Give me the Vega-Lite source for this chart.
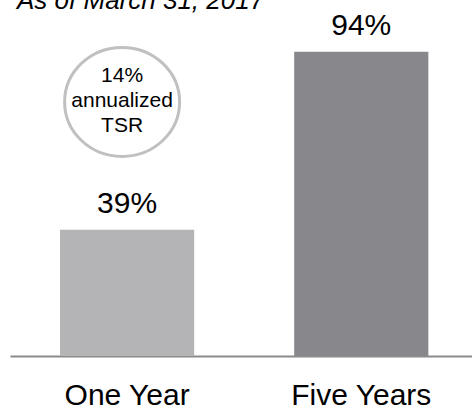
{
  "$schema": "https://vega.github.io/schema/vega-lite/v6.json",
  "width": 462,
  "height": 356,
  "autosize": "none",
  "padding": {"left": 10, "top": 0, "right": 0, "bottom": 51},
  "background": "white",
  "title": {
    "text": "As of March 31, 2017",
    "anchor": "start",
    "frame": "group",
    "font": "Liberation Sans",
    "fontSize": 26,
    "fontStyle": "italic",
    "fontWeight": "normal",
    "color": "black",
    "baseline": "alphabetic",
    "offset": -35,
    "dx": 7
  },
  "config": {
    "view": {"stroke": null},
    "font": "Liberation Sans"
  },
  "layer": [
    {
      "data": {"values": [
        {"period": "One Year", "value": 39, "label": "39%"},
        {"period": "Five Years", "value": 94, "label": "94%"}
      ]},
      "layer": [
        {
          "mark": {"type": "bar"},
          "encoding": {
            "x": {
              "field": "period", "type": "nominal", "sort": null,
              "scale": {"paddingInner": 0.427, "paddingOuter": 0.2, "align": 0.534},
              "axis": {
                "title": null, "labelAngle": 0, "labelFontSize": 30, "labelColor": "black",
                "labelFont": "Liberation Sans", "ticks": false, "tickSize": 0, "labelPadding": 24,
                "domainColor": "#8a8a8a", "domainWidth": 2, "grid": false
              }
            },
            "y": {"field": "value", "type": "quantitative", "scale": {"domain": [0, 110]}, "axis": null},
            "color": {
              "field": "period", "type": "nominal",
              "scale": {"domain": ["One Year", "Five Years"], "range": ["#b4b4b6", "#88878c"]},
              "legend": null
            }
          }
        },
        {
          "mark": {"type": "text", "fontSize": 30, "font": "Liberation Sans", "baseline": "alphabetic", "dy": -17, "color": "black"},
          "encoding": {
            "x": {"field": "period", "type": "nominal", "sort": null},
            "y": {"field": "value", "type": "quantitative"},
            "text": {"field": "label"}
          }
        }
      ]
    },
    {
      "data": {"values": [
        {"period": "One Year", "value": 78.5, "note": ["14%", "annualized", "TSR"]}
      ]},
      "layer": [
        {
          "mark": {
            "type": "point",
            "shape": "M-1.055,0A1.055,1,0,1,0,1.055,0A1.055,1,0,1,0,-1.055,0Z",
            "size": 11881,
            "filled": false,
            "stroke": "#c0c0c0",
            "strokeWidth": 3,
            "opacity": 1,
            "xOffset": -5
          },
          "encoding": {
            "x": {"field": "period", "type": "nominal", "sort": null},
            "y": {"field": "value", "type": "quantitative"}
          }
        },
        {
          "mark": {"type": "text", "fontSize": 21, "font": "Liberation Sans", "baseline": "middle", "lineHeight": 25, "color": "black", "xOffset": -5, "dy": -26},
          "encoding": {
            "x": {"field": "period", "type": "nominal", "sort": null},
            "y": {"field": "value", "type": "quantitative"},
            "text": {"field": "note"}
          }
        }
      ]
    }
  ]
}
